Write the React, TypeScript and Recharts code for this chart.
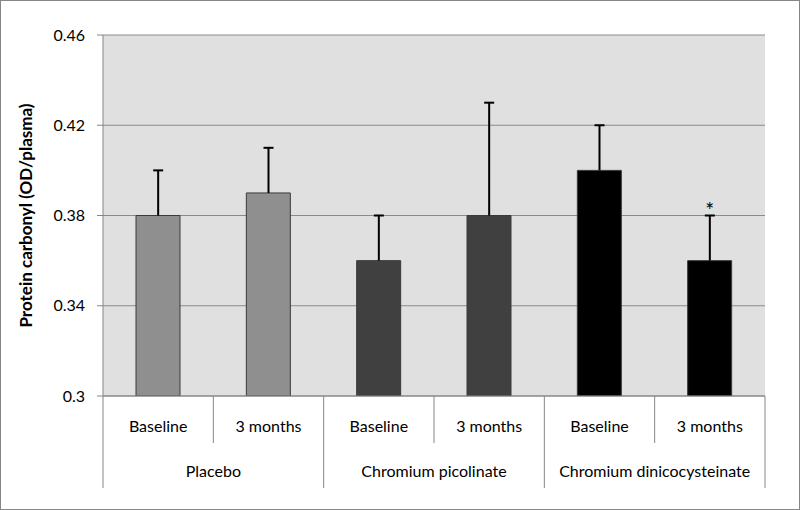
import { ComposedChart, Bar, Cell, ErrorBar, Scatter, XAxis, YAxis, CartesianGrid, Label } from 'recharts';

const categories = ['Baseline', '3 months', 'Baseline', '3 months', 'Baseline', '3 months'];
const groups = ['Placebo', 'Chromium picolinate', 'Chromium dinicocysteinate'];
const means = [0.38, 0.39, 0.36, 0.38, 0.4, 0.36];
const sdUpper = [0.02, 0.02, 0.02, 0.05, 0.02, 0.02];
const significant = [false, false, false, false, false, true];
const barColors = ['#8f8f8f', '#8f8f8f', '#404040', '#404040', '#000000', '#000000'];
const yTicks = [0.3, 0.34, 0.38, 0.42, 0.46];

const W = 800;
const H = 510;
const M = { top: 35, right: 35, bottom: 22, left: 0 };
const Y_AXIS_W = 103;
const X_AXIS_H = 92;
const bandW = (W - M.left - M.right - Y_AXIS_W) / categories.length;

// error bars only go up: a point at mean+sd with a downward stem to the mean
const data = categories.map((c, i) => ({
  id: i,
  name: c,
  mean: means[i],
  top: means[i] + sdUpper[i],
  stem: [sdUpper[i], 0],
  star: significant[i] ? means[i] + sdUpper[i] : null,
}));

const font = 'Lato, "Noto Sans", sans-serif';
const lineColor = '#868686';

function CategoryTick({ x, y, payload }: any) {
  const i = payload.index;
  const odd = i % 2 === 1;
  return (
    <g>
      <text x={x} y={y + 36} textAnchor="middle" fontSize={16} fill="#000" fontFamily={font}>
        {categories[i]}
      </text>
      {i === 0 && <line x1={x - bandW / 2} x2={x - bandW / 2} y1={y} y2={y + X_AXIS_H} stroke={lineColor} />}
      <line x1={x + bandW / 2} x2={x + bandW / 2} y1={y} y2={y + (odd ? X_AXIS_H : 47)} stroke={lineColor} />
      {odd && (
        <text x={x - bandW / 2} y={y + 81} textAnchor="middle" fontSize={16} fill="#000" fontFamily={font}>
          {groups[(i - 1) / 2]}
        </text>
      )}
    </g>
  );
}

function CapShape({ cx, cy }: any) {
  return <line x1={cx - 5} x2={cx + 5} y1={cy} y2={cy} stroke="#000" strokeWidth={2} />;
}

function StarShape({ cx, cy, payload }: any) {
  if (payload.star == null) return null;
  return (
    <text x={cx} y={cy + 2} textAnchor="middle" fontSize={21} fill="#000" fontFamily={font}>
      *
    </text>
  );
}

function YTitle({ viewBox }: any) {
  const cx = 25;
  const cy = viewBox.y + viewBox.height / 2;
  return (
    <text
      x={cx}
      y={cy}
      transform={`rotate(-90, ${cx}, ${cy})`}
      textAnchor="middle"
      dominantBaseline="central"
      fontSize={17}
      fontWeight="bold"
      fill="#000"
      fontFamily={font}
    >
      Protein carbonyl (OD/plasma)
    </text>
  );
}

export default function App() {
  return (
    <div style={{ position: 'absolute', left: 0, top: 0, width: W, height: H, background: '#fff' }}>
      <ComposedChart width={W} height={H} data={data} margin={M}>
        <CartesianGrid fill="#e0e0e0" stroke="#8a8a8a" vertical={false} />
        <XAxis
          dataKey="id"
          height={X_AXIS_H}
          tick={<CategoryTick />}
          tickLine={false}
          tickSize={0}
          tickMargin={0}
          axisLine={{ stroke: lineColor }}
          interval={0}
        />
        <YAxis
          width={Y_AXIS_W}
          domain={[0.3, 0.46]}
          ticks={yTicks}
          allowDataOverflow
          tick={{ fill: '#000', fontSize: 16, fontFamily: font }}
          tickSize={6}
          tickMargin={12}
          tickLine={{ stroke: lineColor }}
          axisLine={{ stroke: lineColor }}
        >
          <Label content={<YTitle />} />
        </YAxis>
        <Bar dataKey="mean" barSize={44} isAnimationActive={false}>
          {data.map((d, i) => (
            <Cell key={d.id} fill={barColors[i]} stroke="#3a3a3a" strokeWidth={1} />
          ))}
        </Bar>
        <Scatter dataKey="top" shape={<CapShape />} isAnimationActive={false}>
          <ErrorBar dataKey="stem" width={0} stroke="#000" strokeWidth={2} direction="y" isAnimationActive={false} />
        </Scatter>
        <Scatter dataKey="star" shape={<StarShape />} isAnimationActive={false} />
      </ComposedChart>
      <div
        style={{
          position: 'absolute',
          left: 0,
          top: 0,
          width: W,
          height: H,
          boxSizing: 'border-box',
          border: '1px solid #868686',
          pointerEvents: 'none',
        }}
      />
    </div>
  );
}
